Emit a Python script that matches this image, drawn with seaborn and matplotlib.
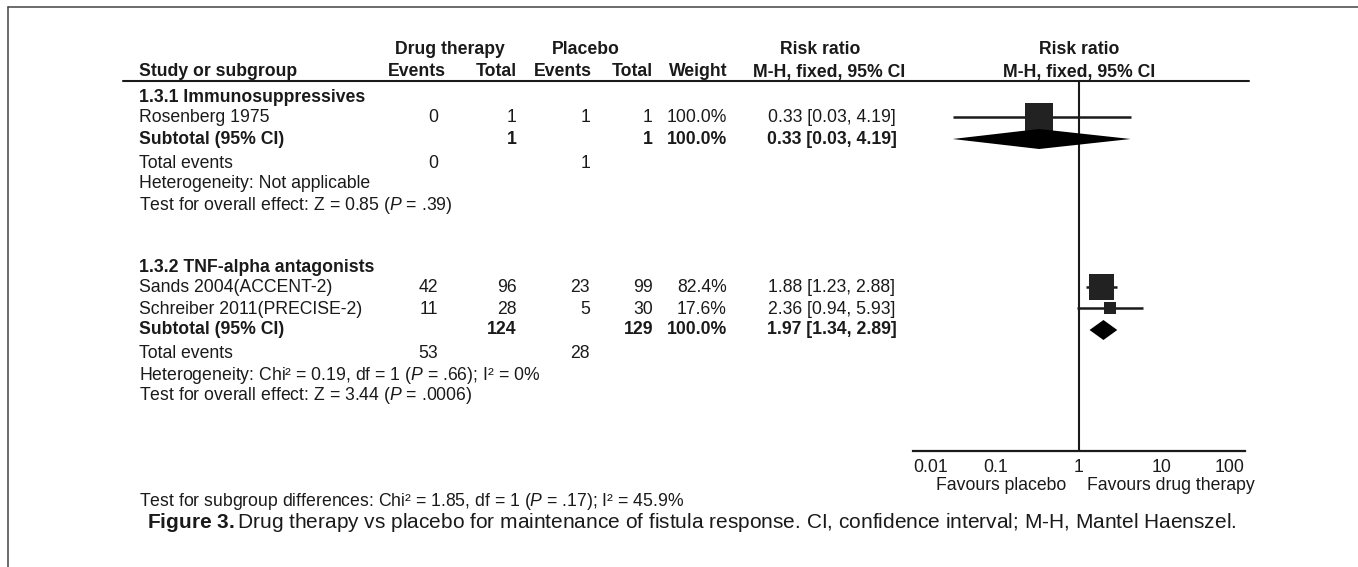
import matplotlib
matplotlib.use("Agg")
import matplotlib.pyplot as plt
import seaborn as sns
import pandas as pd

# ---- data ----
groups = ["1.3.1 Immunosuppressives", "1.3.2 TNF-alpha antagonists"]
studies = ["Rosenberg 1975", "Sands 2004(ACCENT-2)", "Schreiber 2011(PRECISE-2)"]
study_group = [0, 1, 1]
drug_events = [0, 42, 11]
drug_total = [1, 96, 28]
plac_events = [1, 23, 5]
plac_total = [1, 99, 30]
weight = [100.0, 82.4, 17.6]
rr = [0.33, 1.88, 2.36]
rr_lo = [0.03, 1.23, 0.94]
rr_hi = [4.19, 2.88, 5.93]

sub_drug_total = [1, 124]
sub_plac_total = [1, 129]
sub_weight = [100.0, 100.0]
sub_rr = [0.33, 1.97]
sub_lo = [0.03, 1.34]
sub_hi = [4.19, 2.89]
tot_ev_drug = [0, 53]
tot_ev_plac = [1, 28]
heterogeneity = ["Not applicable", "Chi² = 0.19, df = 1 (P = .66); I² = 0%"]
overall = ["Z = 0.85 (P = .39)", "Z = 3.44 (P = .0006)"]
subgroup_test = "Chi² = 1.85, df = 1 (P = .17); I² = 45.9%"

ticks = [0.01, 0.1, 1, 10, 100]
tick_labels = ["0.01", "0.1", "1", "10", "100"]

# ---- style ----
sns.set_theme(style="white")
plt.rcParams["font.family"] = ["Liberation Sans", "DejaVu Sans"]
plt.rcParams["mathtext.fontset"] = "custom"
plt.rcParams["mathtext.rm"] = "Liberation Sans"
plt.rcParams["mathtext.it"] = "Liberation Sans:italic"
plt.rcParams["mathtext.bf"] = "Liberation Sans:bold"
INK = "#1a1a1a"
FS = 12.7
W, H = 1358, 567

def ital(s):
    return s.replace("P =", r"$\mathit{P}$ =")

fig = plt.figure(figsize=(W / 100, H / 100), dpi=100)
bg = fig.add_axes([0, 0, 1, 1])
bg.set_xlim(0, W)
bg.set_ylim(H, 0)
bg.axis("off")

# frame lines
bg.plot([8, W], [7, 7], color="#444444", lw=1.1)
bg.plot([8, 8], [7, H], color="#444444", lw=1.1)

# column positions (px)
x_name = 139
x_de, x_dt, x_pe, x_pt, x_w = 438, 517, 590, 653, 727
x_ci = 832
x_plot_c = 1079

def txt(x, y, s, ha="left", bold=False, size=FS):
    bg.text(x, y, s, ha=ha, va="center", fontsize=size, color=INK,
            fontweight="bold" if bold else "normal")

# header
txt(450, 49, "Drug therapy", "center", True)
txt(586, 49, "Placebo", "center", True)
txt(820, 49, "Risk ratio", "center", True)
txt(x_plot_c, 49, "Risk ratio", "center", True)
txt(x_name, 72, "Study or subgroup", bold=True)
for x, s in zip([x_de + 8, x_dt, x_pe + 2, x_pt, x_w], ["Events", "Total", "Events", "Total", "Weight"]):
    txt(x, 72, s, "right", True)
txt(829, 72, "M-H, fixed, 95% CI", "center", True)
txt(x_plot_c, 72, "M-H, fixed, 95% CI", "center", True)
bg.plot([123, 1249], [81, 81], color=INK, lw=1.5)

# rows
group_top = [97, 267]
step = 21
study_y = [0.0] * len(studies)
sub_y = [0.0, 0.0]
for g, gname in enumerate(groups):
    y = group_top[g]
    txt(x_name, y, gname, bold=True)
    for i, s in enumerate(studies):
        if study_group[i] != g:
            continue
        y += step
        study_y[i] = y
        txt(x_name, y, s)
        txt(x_de, y, str(drug_events[i]), "right")
        txt(x_dt, y, str(drug_total[i]), "right")
        txt(x_pe, y, str(plac_events[i]), "right")
        txt(x_pt, y, str(plac_total[i]), "right")
        txt(x_w, y, f"{weight[i]:.1f}%", "right")
        txt(x_ci, y, f"{rr[i]:.2f} [{rr_lo[i]:.2f}, {rr_hi[i]:.2f}]", "center")
    y += step
    sub_y[g] = y
    txt(x_name, y, "Subtotal (95% CI)", bold=True)
    txt(x_dt, y, str(sub_drug_total[g]), "right", True)
    txt(x_pt, y, str(sub_plac_total[g]), "right", True)
    txt(x_w, y, f"{sub_weight[g]:.1f}%", "right", True)
    txt(x_ci, y, f"{sub_rr[g]:.2f} [{sub_lo[g]:.2f}, {sub_hi[g]:.2f}]", "center", True)
    y += 24
    txt(x_name, y, "Total events")
    txt(x_de, y, str(tot_ev_drug[g]), "right")
    txt(x_pe, y, str(tot_ev_plac[g]), "right")
    y += step
    txt(x_name, y, ital("Heterogeneity: " + heterogeneity[g]))
    y += step
    txt(x_name, y, ital("Test for overall effect: " + overall[g]))

txt(x_name, 502, ital("Test for subgroup differences: " + subgroup_test))
txt(147, 522, r"$\mathbf{Figure\ 3.}$Drug therapy vs placebo for maintenance of fistula response. "
    "CI, confidence interval; M-H, Mantel Haenszel.", size=15.0)

# ---- forest plot ----
ax_top, ax_bot, ax_l, ax_r = 81, 451, 913, 1245
fa = fig.add_axes([ax_l / W, (H - ax_bot) / H, (ax_r - ax_l) / W, (ax_bot - ax_top) / H])
fa.set_xscale("log")
fa.set_xlim(ticks[0], ticks[-1])
fa.set_ylim(ax_bot, ax_top)
fa.patch.set_alpha(0)
for sp in ["left", "right", "top"]:
    fa.spines[sp].set_visible(False)
fa.spines["bottom"].set_linewidth(1.6)
fa.spines["bottom"].set_color(INK)
fa.set_yticks([])
fa.set_xticks(ticks)
fa.set_xticklabels(tick_labels)
fa.minorticks_off()
fa.tick_params(axis="x", direction="inout", length=10, width=1.4, colors=INK,
               labelsize=FS, pad=1)
labs = fa.get_xticklabels()
labs[0].set_ha("left")
labs[-1].set_ha("right")
fa.axvline(1, color=INK, lw=1.5, zorder=1)

df = pd.DataFrame({"rr": rr, "lo": rr_lo, "hi": rr_hi, "w": weight, "y": [v - 1 for v in study_y]})
for _, r in df.iterrows():
    fa.plot([r.lo, r.hi], [r.y, r.y], color=INK, lw=1.8, zorder=2, solid_capstyle="butt")
sns.scatterplot(data=df, x="rr", y="y", size="w", sizes=(0, 400), size_norm=(0, 100),
                marker="s", color="#222222", edgecolor="none", legend=False, ax=fa, zorder=3)

for g in range(len(groups)):
    yc = sub_y[g]
    fa.fill([sub_lo[g], sub_rr[g], sub_hi[g], sub_rr[g]], [yc, yc - 10, yc, yc + 10],
            color="black", lw=0, zorder=4)
fa.set_xlabel("")
fa.set_ylabel("")

txt(1066, 486, "Favours placebo", "right")
txt(1087, 486, "Favours drug therapy", "left")

fig.savefig("out.png", dpi=100)
